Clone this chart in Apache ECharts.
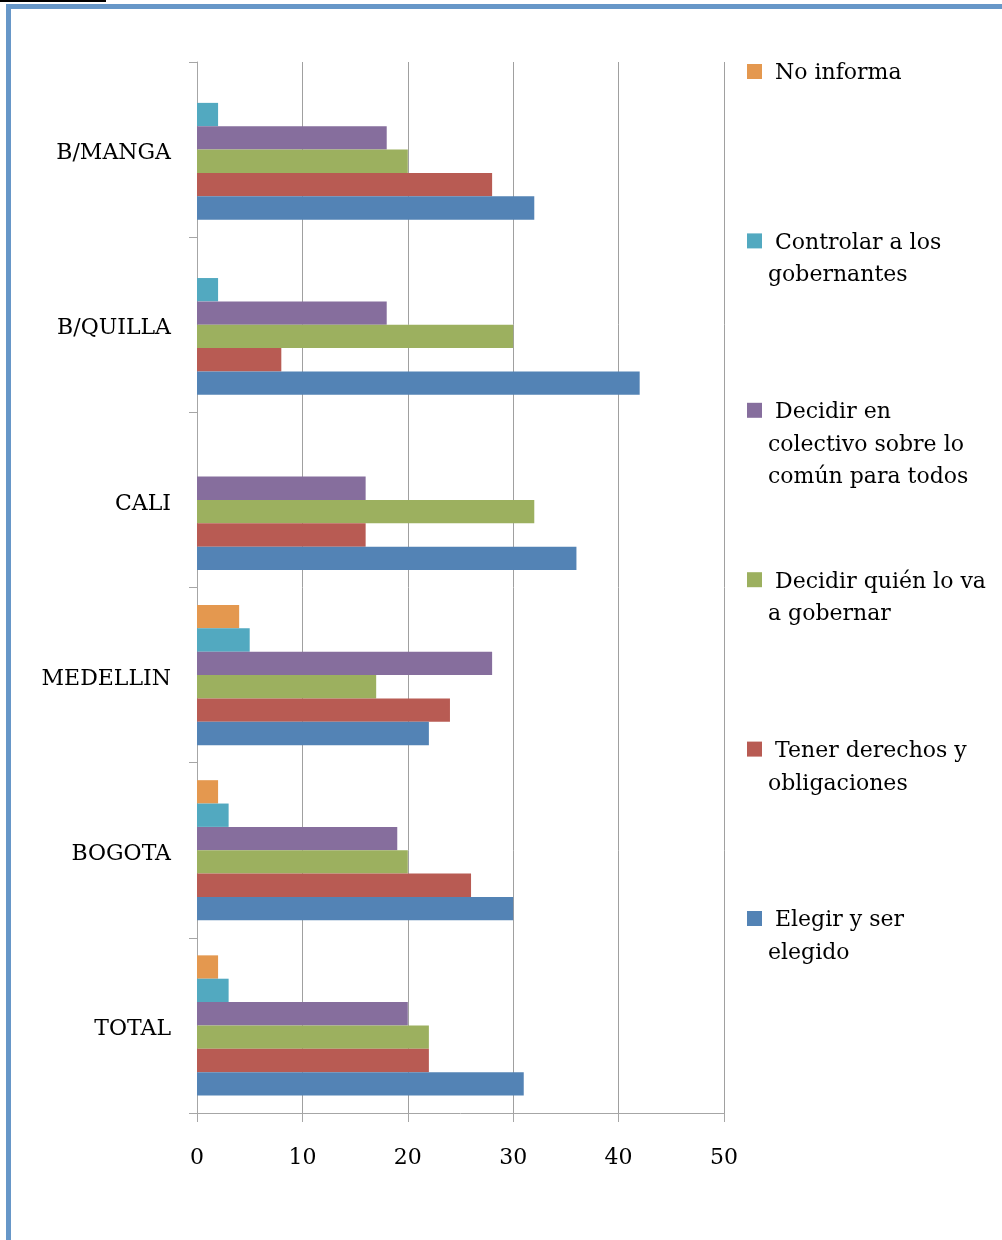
<!DOCTYPE html>
<html><head><meta charset="utf-8">
<script src="https://cdn.jsdelivr.net/npm/echarts@6/dist/echarts.min.js"></script>
<style>html,body{margin:0;padding:0;background:#fff}#c{width:1002px;height:1240px}</style>
</head><body><div id="c"></div>
<script>
// Categories, bottom to top as ECharts draws a category y-axis
const categories = ['TOTAL', 'BOGOTA', 'MEDELLIN', 'CALI', 'B/QUILLA', 'B/MANGA'];
const seriesNames = ['No informa', 'Controlar a los gobernantes', 'Decidir en colectivo sobre lo común para todos', 'Decidir quién lo va a gobernar', 'Tener derechos y obligaciones', 'Elegir y ser elegido'];
const legendText = [' No informa', ' Controlar a los\ngobernantes', ' Decidir en\ncolectivo sobre lo\ncomún para todos', ' Decidir quién lo va\na gobernar', ' Tener derechos y\nobligaciones', ' Elegir y ser\nelegido'];
const noInforma        = [2, 2, 4, 0, 0, 0];
const controlar        = [3, 3, 5, 0, 2, 2];
const decidirColectivo = [20, 19, 28, 16, 18, 18];
const decidirQuien     = [22, 20, 17, 32, 30, 20];
const tenerDerechos    = [22, 26, 24, 16, 8, 28];
const elegir           = [31, 30, 22, 36, 42, 32];
const xTicks = [0, 10, 20, 30, 40, 50];
const colors = ['#E4984F', '#52A9C0', '#866E9D', '#9CB05F', '#B85B53', '#5383B5'];

const allValues = [noInforma, controlar, decidirColectivo, decidirQuien, tenerDerechos, elegir];
const FONT = '"DejaVu Serif", "Liberation Serif", serif';

const chart = echarts.init(document.getElementById('c'), null, {renderer: 'canvas'});

const series = allValues.map((vals, i) => ({
  name: seriesNames[i],
  type: 'bar',
  data: vals,
  barGap: '0%',
  barCategoryGap: '20%',
  itemStyle: {color: colors[i]},
  emphasis: {disabled: true},
  animation: false
}));

const graphics = [
  {type: 'rect', shape: {x: 6, y: 4, width: 1000, height: 5}, style: {fill: '#6797C8'}, silent: true},
  {type: 'rect', shape: {x: 6, y: 4, width: 5, height: 1240}, style: {fill: '#6797C8'}, silent: true},
  {type: 'rect', shape: {x: 0, y: 0, width: 106, height: 2}, style: {fill: '#000'}, silent: true}
];
const legendTop = 72, legendStep = 169.4;
seriesNames.forEach((n, i) => {
  const cy = legendTop + i * legendStep;
  graphics.push({type: 'rect', shape: {x: 747, y: cy - 8, width: 15, height: 15}, style: {fill: colors[i]}, silent: true});
  graphics.push({type: 'text', x: 768, y: cy - 14.5, style: {text: legendText[i], font: '22px ' + FONT, lineHeight: 32.5, fill: '#000', verticalAlign: 'top', align: 'left'}, silent: true});
});

chart.setOption({
  animation: false,
  backgroundColor: '#fff',
  grid: {left: 197, right: 278, top: 62, bottom: 127, containLabel: false},
  xAxis: {
    type: 'value', min: xTicks[0], max: xTicks[xTicks.length - 1], interval: 10,
    axisLine: {show: true, lineStyle: {color: '#a6a6a6', width: 1}},
    axisTick: {show: true, length: 9, lineStyle: {color: '#a6a6a6'}},
    splitLine: {show: true, lineStyle: {color: '#a0a0a0', width: 1}},
    axisLabel: {color: '#000', fontFamily: FONT, fontSize: 22, margin: 34}
  },
  yAxis: {
    type: 'category', data: categories,
    axisLine: {show: true, lineStyle: {color: '#a6a6a6', width: 1}},
    axisTick: {show: true, length: 8, alignWithLabel: false, lineStyle: {color: '#a6a6a6'}},
    axisLabel: {color: '#000', fontFamily: FONT, fontSize: 22, margin: 26, verticalAlign: 'top', lineHeight: 8}
  },
  legend: {show: false},
  tooltip: {show: false},
  series: series,
  graphic: graphics
});
</script></body></html>
